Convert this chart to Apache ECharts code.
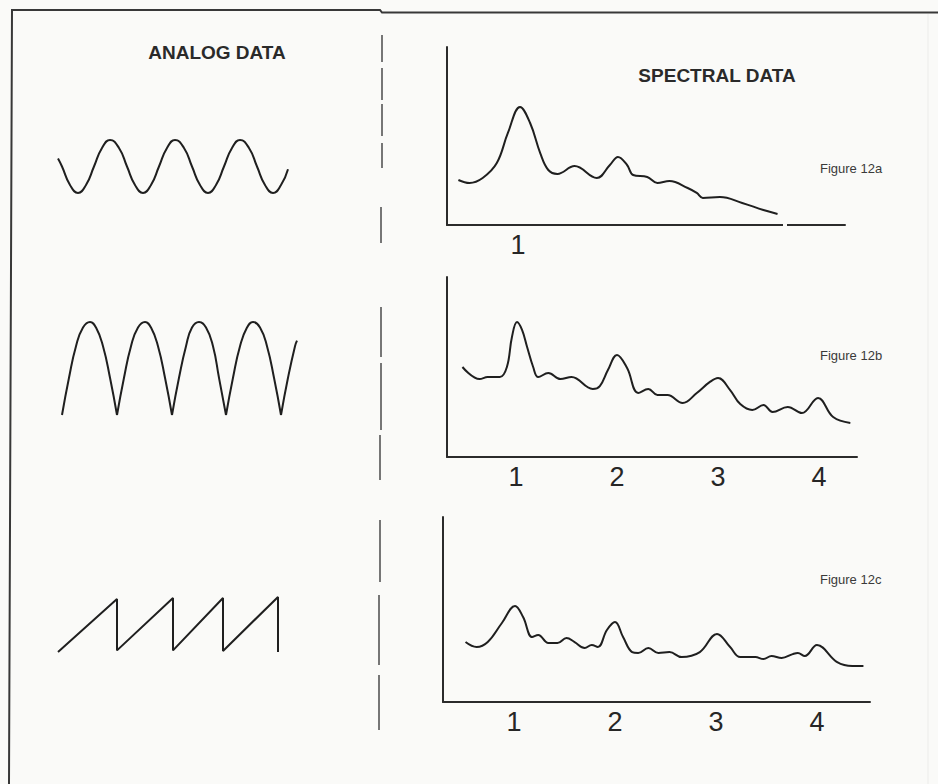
<!DOCTYPE html>
<html><head><meta charset="utf-8">
<script src="https://cdn.jsdelivr.net/npm/echarts@6/dist/echarts.min.js"></script>
<style>html,body{margin:0;padding:0;background:#fafaf8}#c{width:938px;height:784px}</style>
</head><body><div id="c"></div><script>
// ---- Analog waveforms (time in arbitrary units, amplitude normalised) ----
const sineWave = [[0,0.3],[4,0],[12,-0.7],[20,-1],[28,-0.7],[36,0],[44,0.7],[52,1],[61,0.7],[69,0],[77,-0.7],[85,-1],[93,-0.7],[101,0],[109,0.7],[117,1],[126,0.7],[134,0],[142,-0.7],[150,-1],[158,-0.7],[166,0],[174,0.7],[182,1],[191,0.7],[199,0],[207,-0.7],[215,-1],[223,-0.7],[230,-0.1]];
const rectifiedArches = [
  [[0,0],[7,0.4],[14,0.74],[21,0.94],[28,1],[34,0.94],[41,0.74],[48,0.4],[55,0]],
  [[55,0],[62,0.4],[69,0.74],[76,0.94],[83,1],[89,0.94],[96,0.74],[103,0.4],[110,0]],
  [[110,0],[117,0.4],[124,0.74],[130,0.94],[137,1],[144,0.94],[151,0.74],[157,0.4],[164,0]],
  [[164,0],[171,0.4],[178,0.74],[185,0.94],[191,1],[198,0.94],[205,0.74],[212,0.4],[219,0]],
  [[219,0],[226,0.4],[233,0.74],[235,0.8]]
];
const sawtoothWave = [[0,0],[59,0.98],[59,0.03],[115,1],[115,0.03],[165,1],[165,0.02],[220,1.02],[220,0]];

// ---- Spectral data (x = harmonic number, y = relative amplitude 0..10) ----
const spectrumA = [[0.41,2.53],[0.52,2.36],[0.65,2.64],[0.79,3.48],[0.90,5.17],[1.02,6.63],[1.12,5.73],[1.22,4.04],[1.30,3.09],[1.39,2.87],[1.56,3.31],[1.78,2.64],[1.91,3.37],[1.99,3.82],[2.08,3.37],[2.14,2.81],[2.28,2.70],[2.38,2.36],[2.50,2.47],[2.68,2.08],[2.77,1.80],[2.83,1.52],[3.00,1.57],[3.22,1.24],[3.43,0.84],[3.57,0.62]];
const spectrumB = [[0.47,5.0],[0.64,4.33],[0.72,4.44],[0.84,4.44],[0.91,5.0],[0.96,6.67],[1.01,7.5],[1.06,7.06],[1.11,6.11],[1.17,5.0],[1.22,4.44],[1.32,4.67],[1.44,4.33],[1.55,4.44],[1.76,3.78],[1.83,3.94],[1.91,4.83],[2.00,5.67],[2.10,4.94],[2.21,3.56],[2.31,3.78],[2.40,3.44],[2.50,3.44],[2.65,3.0],[2.79,3.56],[2.92,4.17],[3.00,4.39],[3.12,3.72],[3.22,2.94],[3.34,2.61],[3.45,2.89],[3.54,2.5],[3.69,2.78],[3.83,2.44],[3.99,3.28],[4.14,2.22],[4.31,1.89]];
const spectrumC = [[0.52,3.24],[0.63,2.97],[0.74,3.24],[0.88,4.27],[1.01,5.19],[1.09,4.59],[1.18,3.51],[1.24,3.62],[1.34,3.19],[1.43,3.19],[1.52,3.46],[1.60,3.24],[1.70,2.92],[1.77,3.08],[1.83,2.97],[1.92,3.89],[2.00,4.32],[2.08,3.51],[2.17,2.70],[2.23,2.65],[2.33,2.92],[2.43,2.65],[2.54,2.70],[2.66,2.43],[2.84,2.70],[3.01,3.68],[3.14,2.97],[3.24,2.43],[3.39,2.43],[3.47,2.32],[3.55,2.49],[3.65,2.38],[3.76,2.59],[3.81,2.65],[3.88,2.49],[4.00,3.08],[4.20,2.16],[4.35,1.95],[4.46,1.95]];
const harmonicTicksA = [1];
const harmonicTicksBC = [1, 2, 3, 4];
const figureLabels = ['Figure 12a', 'Figure 12b', 'Figure 12c'];
const headings = ['ANALOG DATA', 'SPECTRAL DATA'];

const INK = '#1f1f1f';
const BG = '#fafaf8';
const chart = echarts.init(document.getElementById('c'), null, {renderer: 'svg'});

const grids = [
  {left: 447, top: 47, width: 398, height: 178},
  {left: 447, top: 277, width: 410, height: 180},
  {left: 443, top: 517, width: 427, height: 185},
  {left: 58, top: 140, width: 230, height: 53},
  {left: 62, top: 322, width: 235, height: 93},
  {left: 58, top: 598, width: 220, height: 54}
].map(g => Object.assign({outerBoundsMode: 'none', containLabel: false}, g));

function specX(i, min, max, ticks) {
  return {type: 'value', gridIndex: i, min, max,
    axisLine: {show: true, onZero: false, lineStyle: {color: '#2b2b2b', width: 2}},
    axisTick: {show: false}, splitLine: {show: false},
    axisLabel: {customValues: ticks, margin: 6, fontSize: 27, color: '#262626', fontFamily: 'Liberation Sans'}};
}
function specY(i) {
  return {type: 'value', gridIndex: i, min: 0, max: 10,
    axisLine: {show: true, onZero: false, lineStyle: {color: '#2b2b2b', width: 2}},
    axisTick: {show: false}, splitLine: {show: false}, axisLabel: {show: false}};
}
function hidden(i, min, max) { return {type: 'value', gridIndex: i, min, max, show: false}; }

const xAxis = [
  specX(0, 0.297, 4.238, harmonicTicksA),
  specX(1, 0.317, 4.376, harmonicTicksBC),
  specX(2, 0.297, 4.525, harmonicTicksBC),
  hidden(3, 0, 230), hidden(4, 0, 235), hidden(5, 0, 220)
];
const yAxis = [specY(0), specY(1), specY(2), hidden(3, -1, 1), hidden(4, 0, 1), hidden(5, 0, 1)];

function lineSeries(i, data, smooth) {
  return {type: 'line', xAxisIndex: i, yAxisIndex: i, data, smooth, showSymbol: false, clip: false,
    silent: true, lineStyle: {color: INK, width: 2}};
}
const series = [
  lineSeries(0, spectrumA, 0.4),
  lineSeries(1, spectrumB, 0.4),
  lineSeries(2, spectrumC, 0.4),
  lineSeries(3, sineWave, 0.5),
  ...rectifiedArches.map(a => lineSeries(4, a, 0.5)),
  lineSeries(5, sawtoothWave, false)
];

const dividerDashes = [[382,35,62],[382,68,100],[382,104,136],[382,143,168],[381,207,243],[381,307,357],[381,363,430],[380,435,480],[380,520,582],[379,595,665],[379,675,730]];
const graphic = [
  {type: 'polyline', shape: {points: [[9,784],[12,10],[380,10],[382,12.5],[938,12.5]]}, style: {stroke: '#383838', lineWidth: 2, fill: null}},
  {type: 'line', shape: {x1: 928, y1: 14, x2: 928, y2: 784}, style: {stroke: '#ececea', lineWidth: 1}},
  {type: 'rect', z: 100, shape: {x: 783, y: 222, width: 4, height: 6}, style: {fill: BG}},
  ...dividerDashes.map(d => ({type: 'line', shape: {x1: d[0], y1: d[1], x2: d[0], y2: d[2]}, style: {stroke: '#555', lineWidth: 1.6}})),
  {type: 'text', x: 217, y: 52, style: {text: headings[0], font: 'bold 19px "Liberation Sans"', fill: '#2a2a2a', textAlign: 'center', textVerticalAlign: 'middle'}},
  {type: 'text', x: 717, y: 75, style: {text: headings[1], font: 'bold 19px "Liberation Sans"', fill: '#2a2a2a', textAlign: 'center', textVerticalAlign: 'middle'}},
  {type: 'text', x: 820, y: 168, style: {text: figureLabels[0], font: '13px "Liberation Sans"', fill: '#3a3a3a', textAlign: 'left', textVerticalAlign: 'middle'}},
  {type: 'text', x: 820, y: 355, style: {text: figureLabels[1], font: '13px "Liberation Sans"', fill: '#3a3a3a', textAlign: 'left', textVerticalAlign: 'middle'}},
  {type: 'text', x: 820, y: 579, style: {text: figureLabels[2], font: '13px "Liberation Sans"', fill: '#3a3a3a', textAlign: 'left', textVerticalAlign: 'middle'}}
];

chart.setOption({backgroundColor: BG, animation: false, grid: grids, xAxis, yAxis, series, graphic});
</script></body></html>
